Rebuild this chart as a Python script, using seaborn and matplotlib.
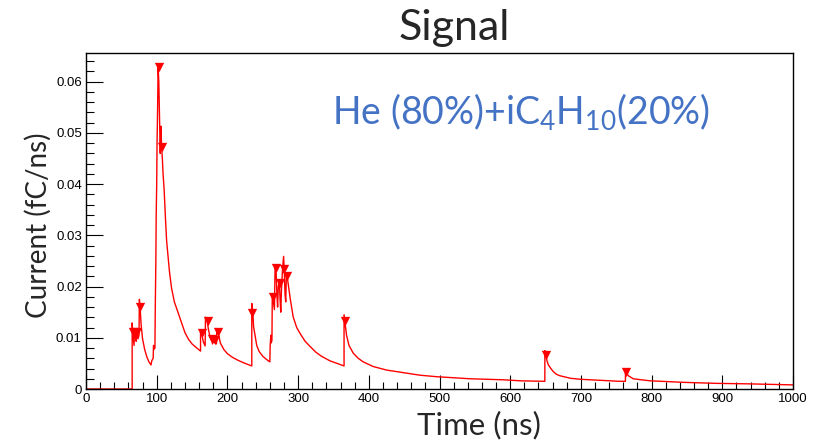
import matplotlib
matplotlib.use("Agg")
import matplotlib.pyplot as plt
from matplotlib.ticker import MultipleLocator
import pandas as pd
import seaborn as sns

# Induced current samples (time in ns, current in fC/ns)
time_ns = [0, 65.3, 65.3, 66, 67, 68, 68.5, 70, 71, 72, 73.5, 75, 75.5, 76.5, 78, 80,
           83, 86, 89, 92, 93, 95, 95.5, 96.5, 97.5, 98, 98.8, 99.3, 100, 100.5, 101.3,
           102, 103, 104, 105, 106, 107, 108, 109, 110.5, 112.5, 114, 116, 118, 121,
           125, 130, 135, 140, 145, 150, 155, 162, 162, 164, 166, 168.5, 169, 171, 173,
           175, 177, 178, 179, 180.5, 181.5, 183, 184.5, 185, 187, 190, 195, 200, 207,
           215, 225, 234.5, 234.5, 236, 237, 239, 241.5, 245, 250, 255, 260, 260.5,
           261.5, 262, 263, 263.5, 265, 266.5, 267.5, 269, 270, 271, 272, 273.5, 274.5,
           275.5, 276.5, 278, 279.5, 280.5, 281.5, 282.5, 283.5, 285, 287, 289, 293,
           298, 303, 310, 317, 325, 333, 345, 355, 365, 365, 366.5, 368.5, 372, 378,
           385, 392, 406, 425, 449, 472, 496, 520, 543, 567, 590, 614, 649, 649, 650.5,
           652, 654, 658, 661, 665, 670, 685, 699, 727, 755, 763, 763, 765, 767, 774,
           785, 798, 845, 892, 939, 1000]
current = [0, 0, 0.0129, 0.0112, 0.0098, 0.0085, 0.0112, 0.0108, 0.0093, 0.0110, 0.0098,
           0.0105, 0.0175, 0.0160, 0.0125, 0.0098, 0.0077, 0.0063, 0.0053, 0.0047,
           0.0055, 0.0060, 0.0085, 0.0078, 0.0080, 0.0160, 0.0250, 0.0340, 0.0400,
           0.0480, 0.0550, 0.0629, 0.0600, 0.0530, 0.0460, 0.0513, 0.0470, 0.0450,
           0.0420, 0.0390, 0.0330, 0.0290, 0.0260, 0.0230, 0.0197, 0.0170, 0.0150,
           0.0130, 0.0110, 0.0097, 0.0088, 0.0082, 0.0074, 0.0112, 0.0105, 0.0092,
           0.0084, 0.0140, 0.0135, 0.0118, 0.0104, 0.0096, 0.0100, 0.0088, 0.0100,
           0.0090, 0.0095, 0.0088, 0.0118, 0.0110, 0.0090, 0.0077, 0.0069, 0.0062,
           0.0056, 0.0050, 0.0045, 0.0167, 0.0150, 0.0122, 0.0105, 0.0085, 0.0073,
           0.0064, 0.0058, 0.0053, 0.0085, 0.0105, 0.0090, 0.0095, 0.0185, 0.0170,
           0.0155, 0.0242, 0.0225, 0.0185, 0.0160, 0.0200, 0.0210, 0.0175, 0.0150,
           0.0195, 0.0235, 0.0259, 0.0230, 0.0185, 0.0170, 0.0225, 0.0215, 0.0195,
           0.0175, 0.0141, 0.0120, 0.0108, 0.0093, 0.0083, 0.0072, 0.0064, 0.0055,
           0.0050, 0.0045, 0.0145, 0.0128, 0.0105, 0.0085, 0.0070, 0.0060, 0.0053,
           0.0044, 0.0037, 0.0032, 0.0027, 0.0024, 0.0022, 0.0020, 0.0019, 0.0018,
           0.0016, 0.0015, 0.0075, 0.0068, 0.0055, 0.0047, 0.0039, 0.0034, 0.0029,
           0.0026, 0.0021, 0.0019, 0.0017, 0.0015, 0.0015, 0.0037, 0.0030, 0.0026,
           0.0020, 0.0018, 0.0016, 0.0013, 0.0011, 0.0010, 0.0008]

# Peaks found by the peak search
peak_t = [66.5, 71.5, 76, 102.8, 107.5, 164, 172.5, 178.5, 182.5, 186.5, 235, 265,
          268.5, 274, 279.5, 284, 366, 650, 763.5]
peak_i = [0.0111, 0.0111, 0.0160, 0.0629, 0.0473, 0.0110, 0.0132, 0.0097, 0.0095,
          0.0112, 0.0148, 0.0180, 0.0236, 0.0207, 0.0234, 0.0221, 0.0132, 0.0067,
          0.0034]

x_ticks = [0, 100, 200, 300, 400, 500, 600, 700, 800, 900, 1000]
y_ticks = [0, 0.01, 0.02, 0.03, 0.04, 0.05, 0.06]
y_tick_labels = ["0", "0.01", "0.02", "0.03", "0.04", "0.05", "0.06"]

signal = pd.DataFrame({"t": time_ns, "i": current})
peaks = pd.DataFrame({"t": peak_t, "i": peak_i})

sns.set_style("ticks")
plt.rcParams["font.family"] = ["Liberation Sans", "DejaVu Sans"]
plt.rcParams["mathtext.fontset"] = "custom"
plt.rcParams["mathtext.rm"] = "Lato"
plt.rcParams["mathtext.it"] = "Lato:italic"

fig = plt.figure(figsize=(8.23, 4.42), dpi=100)
ax = fig.add_axes([86 / 823, 1 - 389 / 442, (793 - 86) / 823, (389 - 53) / 442])

sns.lineplot(data=signal, x="t", y="i", sort=False, estimator=None,
             color="#ff0000", linewidth=1.0, ax=ax)
sns.scatterplot(data=peaks, x="t", y="i", marker="v", color="#ff0000",
                s=45, linewidth=0, ax=ax, zorder=3)

ax.set_xlim(0, 1000)
ax.set_ylim(0, 0.0656)
ax.set_xticks(x_ticks)
ax.set_xticklabels([str(v) for v in x_ticks])
ax.set_yticks(y_ticks)
ax.set_yticklabels(y_tick_labels)
ax.xaxis.set_minor_locator(MultipleLocator(20))
ax.yaxis.set_minor_locator(MultipleLocator(0.002))
ax.tick_params(axis="both", which="both", direction="in", colors="#000000",
               labelsize=9.5, pad=3, width=0.8)
ax.tick_params(axis="x", which="major", length=10)
ax.tick_params(axis="x", which="minor", length=5)
ax.tick_params(axis="y", which="major", length=12)
ax.tick_params(axis="y", which="minor", length=6)
for side in ax.spines.values():
    side.set_visible(True)
    side.set_linewidth(1.0)
    side.set_color("#000000")
    side.set_zorder(5)
ax.set_xlabel("")
ax.set_ylabel("")

fig.text(454 / 823, 1 - 28 / 442, "Signal", family=["Lato", "DejaVu Sans"],
         fontsize=31, ha="center", va="center")
fig.text(479 / 823, 1 - 425 / 442, "Time (ns)", family=["Lato", "DejaVu Sans"],
         fontsize=22.5, ha="center", va="center")
fig.text(38 / 823, 1 - 225 / 442, "Current (fC/ns)", family=["Lato", "DejaVu Sans"],
         fontsize=20, ha="center", va="center", rotation=90)
fig.text(521 / 823, 1 - 112 / 442, r"He (80%)+iC$_4$H$_{10}$(20%)",
         family=["Lato", "DejaVu Sans"], color="#4472c4", fontsize=27,
         ha="center", va="center")

fig.savefig("out.png", dpi=100)
